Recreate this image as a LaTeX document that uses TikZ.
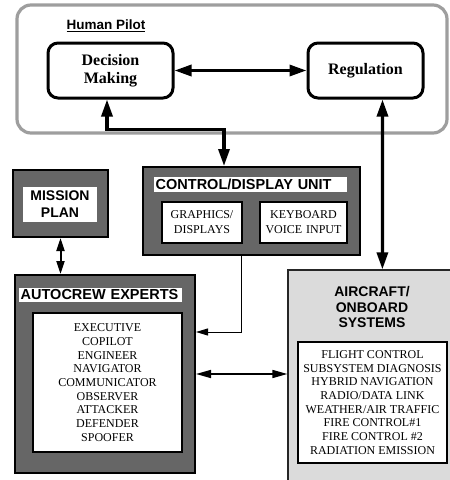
\documentclass[tikz,border=0pt]{standalone}
\usepackage{fontspec}
\setmainfont{Liberation Serif}
\newfontfamily\hvfont{Liberation Sans}
\usetikzlibrary{arrows.meta,calc}

\begin{document}
\begin{tikzpicture}[x=1pt,y=-1pt,
  pilotframe/.style={draw=black!38, line width=3.2pt, rounded corners=14pt, inner sep=0pt},
  funcbox/.style={draw, line width=3pt, rounded corners=10pt, fill=white, align=center, inner sep=0pt,
    font=\bfseries\fontsize{16}{18}\selectfont},
  darkbox/.style={draw, line width=2pt, fill=black!60, inner sep=0pt},
  lightbox/.style={draw=black!85, line width=1.2pt, fill=black!14, inner sep=0pt},
  whitebox/.style={draw, line width=1.4pt, fill=white, inner sep=0pt, align=center},
  plainwhite/.style={fill=white, inner sep=0pt, align=center},
  band/.style={fill=white, inner xsep=1.5pt, inner ysep=0pt, anchor=west, align=left,
    font=\hvfont\bfseries\fontsize{14.5}{15}\selectfont},
  sanstitle/.style={font=\hvfont\bfseries\fontsize{14}{15.5}\selectfont, align=center},
  listtext/.style={font=\fontsize{12}{13.7}\selectfont},
  boldflow/.style={line width=3.2pt, {Triangle[length=17pt,width=11pt]}-{Triangle[length=17pt,width=11pt]}},
  midflow/.style={line width=1.6pt, {Triangle[length=15pt,width=8pt]}-{Triangle[length=15pt,width=8pt]}},
  smallflow/.style={line width=2pt, {Triangle[length=13pt,width=8pt]}-{Triangle[length=13pt,width=8pt]}},
  thinflow/.style={line width=1pt, -{Triangle[length=12pt,width=7pt]}}
]
\useasboundingbox (0,0) rectangle (450,480);
\clip (0,0) rectangle (450,480);

% Human pilot frame and its two functions
\node[pilotframe, minimum width=430pt, minimum height=128pt] (pilot) at (232,69) {};
\node[font=\hvfont\bfseries\fontsize{13.5}{15}\selectfont] (pilottitle) at (106,26) {\underline{Human Pilot}};
\node[funcbox, minimum width=125pt, minimum height=55pt] (dm) at (110.5,70.5) {Decision\\Making};
\node[funcbox, minimum width=115pt, minimum height=55pt] (reg) at (365.5,70.5) {Regulation};

% Control/display unit
\node[darkbox, minimum width=217pt, minimum height=88pt] (cdu) at (251.5,211) {};
\node[band, text width=190pt, minimum height=15pt] (cdutitle) at (154,184.5) {CONTROL/DISPLAY UNIT};
\node[whitebox, minimum width=80pt, minimum height=41pt, text width=78pt, font=\fontsize{12}{15}\selectfont] (gfx) at (202,222.5) {GRAPHICS/\\DISPLAYS};
\node[whitebox, minimum width=87pt, minimum height=41pt, text width=85pt, font=\fontsize{12}{15}\selectfont] (kbd) at (303.5,222.5) {KEYBOARD\\VOICE INPUT};

% Mission plan
\node[darkbox, minimum width=95pt, minimum height=67pt] (mission) at (60.5,203.5) {};
\node[plainwhite, minimum width=74pt, minimum height=35pt, font=\hvfont\bfseries\fontsize{14}{17}\selectfont] (missiontext) at (60,204.5) {MISSION\\PLAN};

% Autocrew experts
\node[darkbox, minimum width=180pt, minimum height=198pt] (auto) at (105,374) {};
\node[band, text width=160pt, minimum height=14pt] (autotitle) at (19,295) {AUTOCREW EXPERTS};
\node[whitebox, listtext, minimum width=149pt, minimum height=139pt] (autolist) at (107.5,382.5)
  {EXECUTIVE\\COPILOT\\ENGINEER\\NAVIGATOR\\COMMUNICATOR\\OBSERVER\\ATTACKER\\DEFENDER\\SPOOFER};

% Aircraft / onboard systems
\node[lightbox, minimum width=167pt, minimum height=215pt] (air) at (371.5,377.5) {};
\node[sanstitle] (airtitle) at (372,307) {AIRCRAFT/\\ONBOARD\\SYSTEMS};
\node[whitebox, listtext, minimum width=149pt, minimum height=121pt] (airlist) at (372.5,402.5)
  {FLIGHT CONTROL\\SUBSYSTEM DIAGNOSIS\\HYBRID NAVIGATION\\RADIO/DATA LINK\\WEATHER/AIR TRAFFIC\\FIRE CONTROL\#1\\FIRE CONTROL \#2\\RADIATION EMISSION};

% Connectors
\draw[boldflow] (dm.east) -- (reg.west);
\draw[boldflow] ($(dm.south)+(-3.5,0)$) -- ++(0,30) -| ($(cdu.north west)+(82,0)$);
\draw[boldflow] ($(reg.south)+(17,0)$) -- ($(air.north west)+(95,0)$);
\draw[smallflow] (mission.south) -- (mission.south |- auto.north);
\draw[thinflow] ($(cdu.south west)+(99,0)$) |- ($(auto.north east)+(0,58)$);
\draw[midflow] (auto.east) -- (auto.east -| air.west);
\end{tikzpicture}
\end{document}
